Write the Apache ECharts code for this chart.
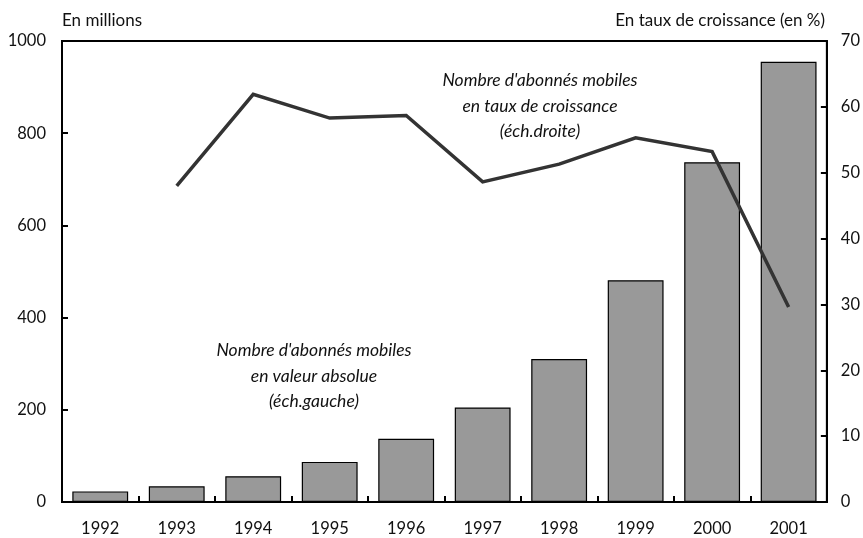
<!DOCTYPE html>
<html>
<head>
<meta charset="utf-8">
<script src="https://cdn.jsdelivr.net/npm/echarts@6/dist/echarts.min.js"></script>
<style>
html,body{margin:0;padding:0;background:#fff;}
#c{width:863px;height:538px;}
</style>
</head>
<body>
<div id="c"></div>
<script>
const years = ['1992','1993','1994','1995','1996','1997','1998','1999','2000','2001'];
const subscribers = [23, 34, 56, 87, 137, 205, 310, 481, 737, 955];
const growthRate = [null, 48.0, 61.9, 58.3, 58.7, 48.6, 51.3, 55.3, 53.2, 29.6];
const leftTitle = 'En millions';
const rightTitle = 'En taux de croissance (en %)';
const lineNote = ["Nombre d'abonnés mobiles", 'en taux de croissance', '(éch.droite)'];
const barNote = ["Nombre d'abonnés mobiles", 'en valeur absolue', '(éch.gauche)'];

const FONT = 'Lato';
const chart = echarts.init(document.getElementById('c'), null, {renderer: 'canvas'});
const axisLbl = {color: '#111', fontFamily: FONT, fontSize: 16.5, formatter: v => String(v)};

chart.setOption({
  animation: false,
  backgroundColor: '#fff',
  grid: {left: 62, right: 36, top: 41, bottom: 36, show: true, borderColor: '#000', borderWidth: 2, backgroundColor: 'transparent'},
  xAxis: {
    type: 'category', data: years,
    axisLine: {show: true, lineStyle: {color: '#000', width: 2}},
    axisTick: {show: true, inside: true, length: 6, interval: 0, lineStyle: {color: '#000', width: 2}},
    axisLabel: {margin: 18, interval: 0, color: '#111', fontFamily: FONT, fontSize: 16.5},
    splitLine: {show: false}
  },
  yAxis: [
    {
      type: 'value', min: 0, max: 1000, interval: 200, position: 'left',
      axisLine: {show: true, lineStyle: {color: '#000', width: 2}},
      axisTick: {show: true, inside: true, length: 6, lineStyle: {color: '#000', width: 2}},
      axisLabel: Object.assign({margin: 16}, axisLbl),
      splitLine: {show: false}
    },
    {
      type: 'value', min: 0, max: 70, interval: 10, position: 'right',
      axisLine: {show: true, lineStyle: {color: '#000', width: 2}},
      axisTick: {show: true, inside: true, length: 6, lineStyle: {color: '#000', width: 2}},
      axisLabel: Object.assign({margin: 14}, axisLbl),
      splitLine: {show: false}
    }
  ],
  series: [
    {
      type: 'bar', data: subscribers, yAxisIndex: 0, barWidth: '73%',
      itemStyle: {color: '#999999', borderColor: '#000', borderWidth: 1.2},
      z: 2
    },
    {
      type: 'line', data: growthRate, yAxisIndex: 1, symbol: 'none', connectNulls: false,
      lineStyle: {color: '#333333', width: 3.5, join: 'miter'},
      z: 3
    }
  ],
  graphic: [
    {type: 'text', left: 62, top: 12, style: {text: leftTitle, font: '17px ' + FONT, fill: '#111'}},
    {type: 'text', right: 38, top: 12, style: {text: rightTitle, font: '17px ' + FONT, fill: '#111', textAlign: 'right'}},
    {type: 'text', x: 540, y: 106, style: {text: lineNote.join('\n'), font: 'italic 17.5px ' + FONT, fill: '#111', textAlign: 'center', textVerticalAlign: 'middle', lineHeight: 25.5}, z: 10},
    {type: 'text', x: 314, y: 376, style: {text: barNote.join('\n'), font: 'italic 17.5px ' + FONT, fill: '#111', textAlign: 'center', textVerticalAlign: 'middle', lineHeight: 25.5}, z: 10}
  ]
});
</script>
</body>
</html>
